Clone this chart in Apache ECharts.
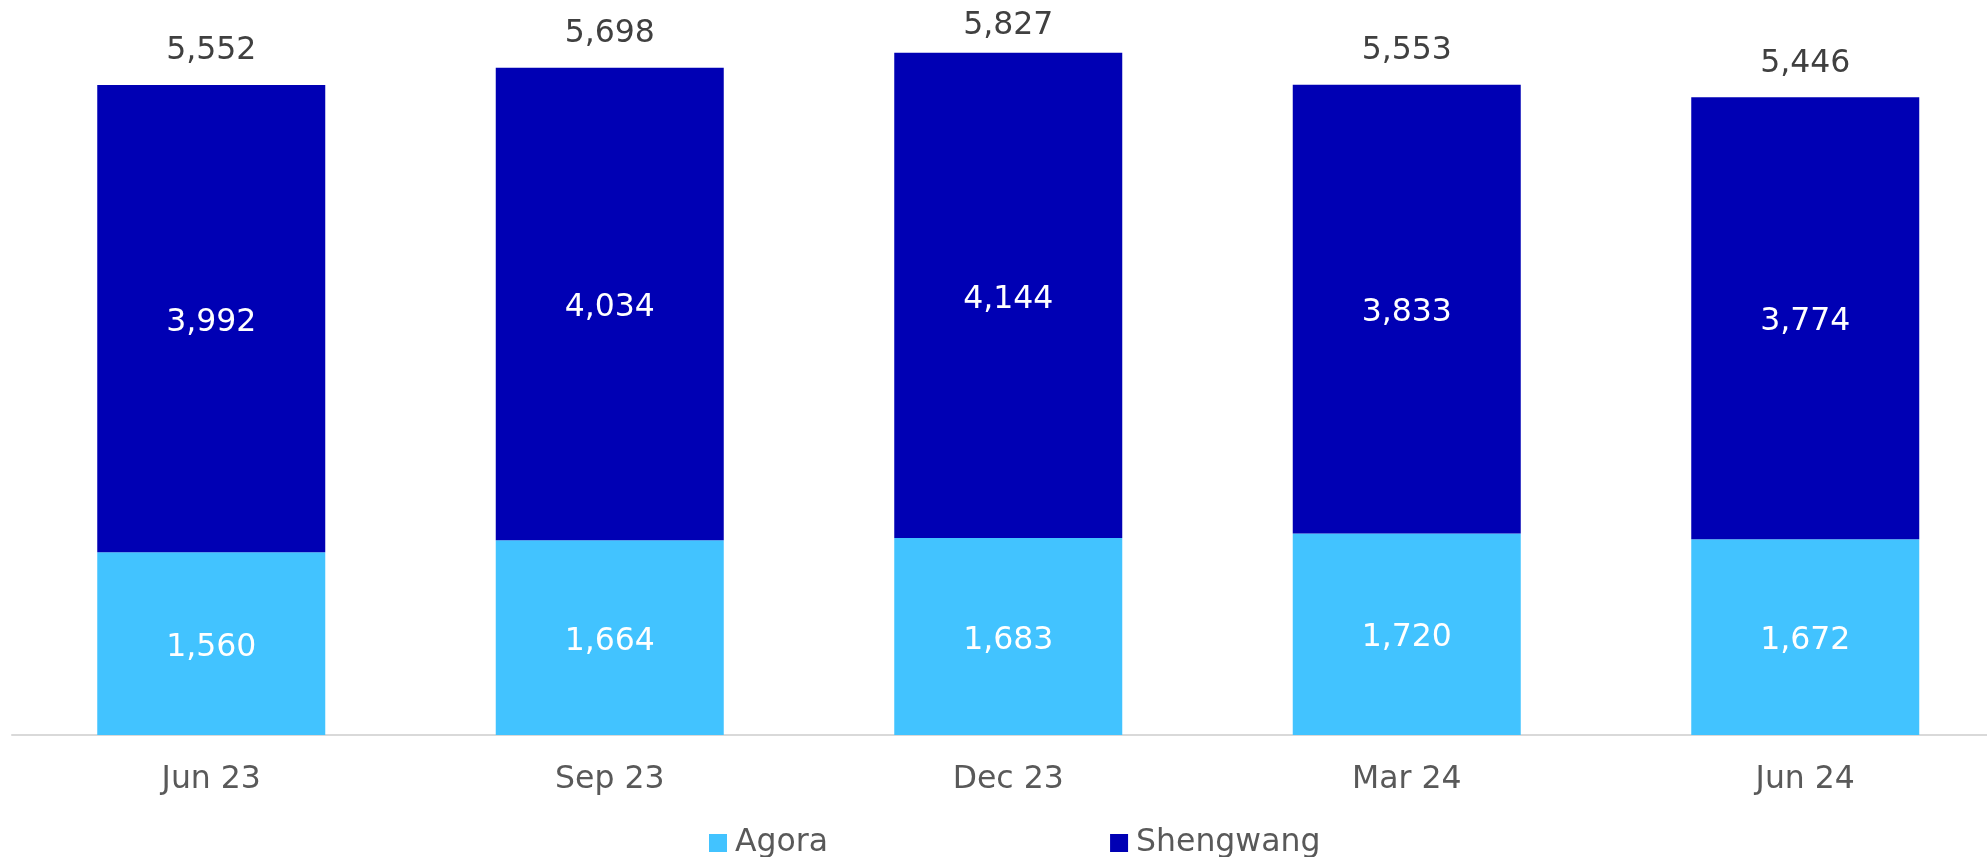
<!DOCTYPE html>
<html>
<head>
<meta charset="utf-8">
<script src="https://cdn.jsdelivr.net/npm/echarts@6/dist/echarts.min.js"></script>
<style>
  html, body { margin: 0; padding: 0; background: #fff; }
  #chart { width: 1987px; height: 857px; }
</style>
</head>
<body>
<div id="chart"></div>
<script>
const categories = ['Jun 23', 'Sep 23', 'Dec 23', 'Mar 24', 'Jun 24']
const agora = [1560, 1664, 1683, 1720, 1672]
const shengwang = [3992, 4034, 4144, 3833, 3774]
const totals = [5552, 5698, 5827, 5553, 5446]

const fontFamily = '"DejaVu Sans", Verdana, sans-serif'
const fmt = function(p) {
  return p.value.toLocaleString('en-US')
}

const chart = echarts.init(document.getElementById('chart'))
chart.setOption({
  animation: false,
  textStyle: { fontFamily: fontFamily },
  grid: { left: 12, width: 1992.5, top: 32.5, bottom: 122, containLabel: false, outerBoundsMode: 'none' },
  legend: {
    data: ['Agora', 'Shengwang'],
    left: 704,
    top: 822,
    itemWidth: 18,
    itemHeight: 18,
    itemGap: 282,
    icon: 'rect',
    textStyle: { fontSize: 31.5, color: '#595959', fontFamily: fontFamily, padding: [0, 0, 0, 3] }
  },
  xAxis: {
    type: 'category',
    data: categories,
    axisLine: { lineStyle: { color: '#d9d9d9', width: 2 } },
    axisTick: { show: false },
    axisLabel: { fontSize: 31.5, color: '#595959', margin: 29, fontFamily: fontFamily }
  },
  yAxis: {
    type: 'value',
    min: 0,
    max: 6000,
    show: false,
    splitLine: { show: false }
  },
  series: [
    {
      name: 'Agora',
      type: 'bar',
      stack: 'a',
      barWidth: 228,
      data: agora,
      itemStyle: { color: '#42c3ff' },
      label: { show: true, position: 'inside', offset: [0, 4], color: '#fff', fontSize: 31.5, formatter: fmt, fontFamily: fontFamily }
    },
    {
      name: 'Shengwang',
      type: 'bar',
      stack: 'a',
      barWidth: 228,
      data: shengwang,
      itemStyle: { color: '#0000b4' },
      label: { show: true, position: 'inside', offset: [0, 4], color: '#fff', fontSize: 31.5, formatter: fmt, fontFamily: fontFamily }
    },
    {
      name: 'Total',
      type: 'bar',
      barWidth: 228,
      barGap: '-100%',
      // the tallest total sits a little closer to its bar
      data: totals.map(function(v) {
        return v === Math.max.apply(null, totals) ? { value: v, label: { distance: 11 } } : v
      }),
      z: 0,
      itemStyle: { color: 'rgba(0,0,0,0)' },
      label: { show: true, position: 'top', distance: 18, color: '#404040', fontSize: 31.5, formatter: fmt, fontFamily: fontFamily }
    }
  ]
})
</script>
</body>
</html>
